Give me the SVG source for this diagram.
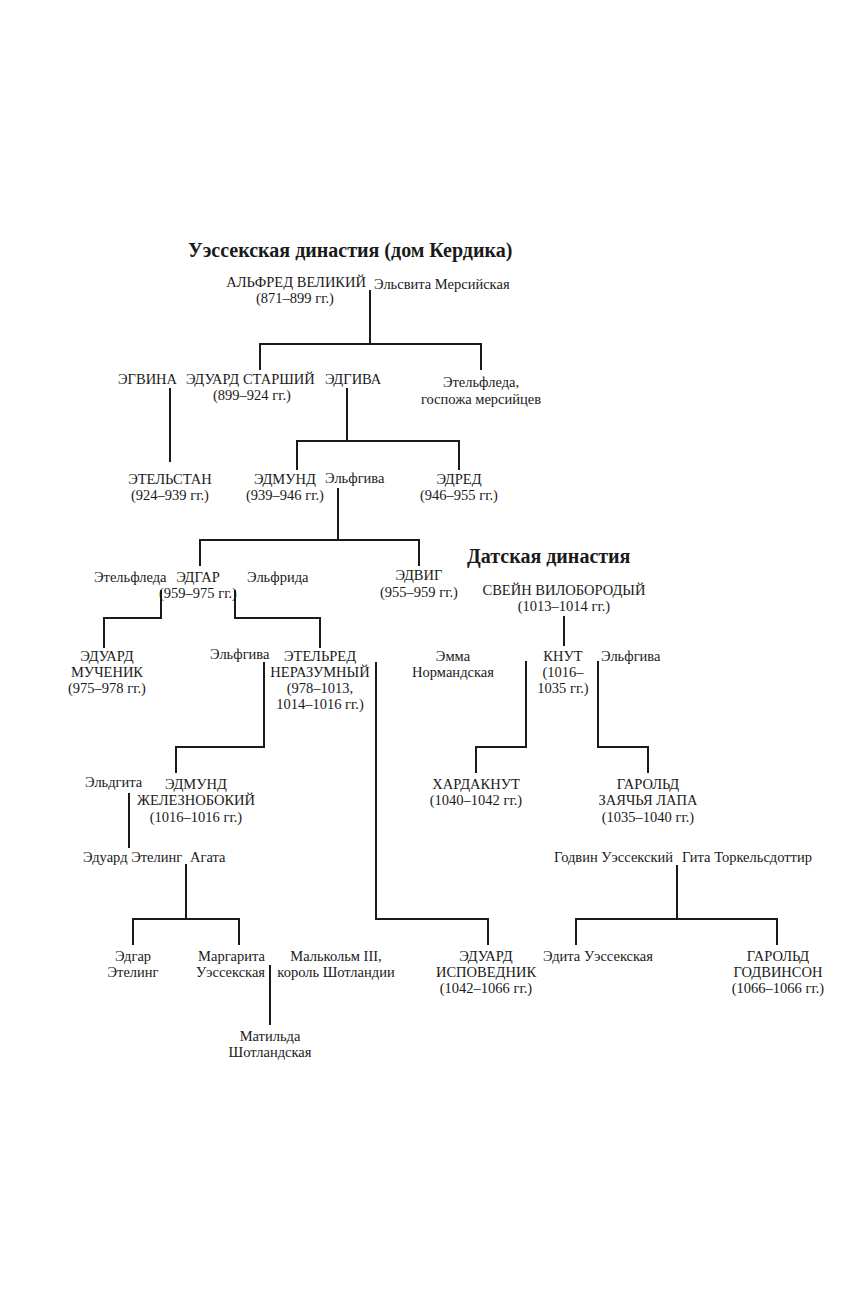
<svg xmlns="http://www.w3.org/2000/svg" width="862" height="1299" viewBox="0 0 862 1299">
<style>
text{font-family:"Liberation Serif","DejaVu Serif",serif;font-size:14.5px;fill:#1a1a1a}
.t{font-weight:bold;font-size:20px}
.c{text-anchor:middle}
.e{text-anchor:end}
#connectors path{fill:none;stroke:#1a1a1a;stroke-width:2}
</style>
<rect width="862" height="1299" fill="#fff"/>
<g id="titles">
<text class="t" x="188" y="257">Уэссекская династия (дом Кердика)</text>
<text class="t" x="467" y="563">Датская династия</text>
</g>
<g id="connectors">
<path d="M370 290V344M260 370V344H481V370"/>
<path d="M170 388V462"/>
<path d="M347 388V441M297 470V441H459V470"/>
<path d="M338 488V540M200 566V540H419V566"/>
<path d="M161 590V618H104V648"/>
<path d="M235 590V618H320V648"/>
<path d="M264 662V747H176V773"/>
<path d="M376 662V919H488V945"/>
<path d="M564 616V646"/>
<path d="M526 661V747H476V773"/>
<path d="M598 661V747H648V773"/>
<path d="M129 793V848"/>
<path d="M186 864V919M133 945V919H239V945"/>
<path d="M270 965V1025"/>
<path d="M677 865V919M576 945V919H777V945"/>
</g>
<g id="alfred"><text class="e" x="366" y="287">АЛЬФРЕД ВЕЛИКИЙ</text><text class="c" x="295" y="303">(871–899 гг.)</text></g>
<g id="elswitha"><text x="374" y="289">Эльсвита Мерсийская</text></g>
<g id="egwina"><text x="118" y="384">ЭГВИНА</text></g>
<g id="edward-elder"><text x="186" y="384">ЭДУАРД СТАРШИЙ</text><text class="c" x="252" y="400">(899–924 гг.)</text></g>
<g id="eadgifu"><text x="325" y="384">ЭДГИВА</text></g>
<g id="aethelflaed"><text class="c" x="481" y="387">Этельфледа,</text><text class="c" x="481" y="404">госпожа мерсийцев</text></g>
<g id="athelstan"><text class="c" x="170" y="484">ЭТЕЛЬСТАН</text><text class="c" x="170" y="500">(924–939 гг.)</text></g>
<g id="edmund"><text class="c" x="285" y="484">ЭДМУНД</text><text class="c" x="285" y="500">(939–946 гг.)</text></g>
<g id="aelfgifu1"><text x="325" y="483">Эльфгива</text></g>
<g id="eadred"><text class="c" x="459" y="484">ЭДРЕД</text><text class="c" x="459" y="500">(946–955 гг.)</text></g>
<g id="aethelflaed2"><text x="94" y="582">Этельфледа</text></g>
<g id="edgar"><text class="c" x="198" y="582">ЭДГАР</text><text class="c" x="198" y="598">(959–975 гг.)</text></g>
<g id="aelfthryth"><text x="247" y="582">Эльфрида</text></g>
<g id="eadwig"><text class="c" x="419" y="580">ЭДВИГ</text><text class="c" x="419" y="597">(955–959 гг.)</text></g>
<g id="edward-martyr"><text class="c" x="107" y="661">ЭДУАРД</text><text class="c" x="107" y="677">МУЧЕНИК</text><text class="c" x="107" y="693">(975–978 гг.)</text></g>
<g id="aelfgifu2"><text x="210" y="659">Эльфгива</text></g>
<g id="aethelred"><text class="c" x="320" y="661">ЭТЕЛЬРЕД</text><text class="c" x="320" y="677">НЕРАЗУМНЫЙ</text><text class="c" x="320" y="693">(978–1013,</text><text class="c" x="320" y="709">1014–1016 гг.)</text></g>
<g id="sweyn"><text class="c" x="564" y="595">СВЕЙН ВИЛОБОРОДЫЙ</text><text class="c" x="564" y="611">(1013–1014 гг.)</text></g>
<g id="emma"><text class="c" x="453" y="661">Эмма</text><text class="c" x="453" y="677">Нормандская</text></g>
<g id="cnut"><text class="c" x="563" y="661">КНУТ</text><text class="c" x="563" y="677">(1016–</text><text class="c" x="563" y="693">1035 гг.)</text></g>
<g id="aelfgifu3"><text x="601" y="661">Эльфгива</text></g>
<g id="harthacnut"><text class="c" x="476" y="789">ХАРДАКНУТ</text><text class="c" x="476" y="805">(1040–1042 гг.)</text></g>
<g id="harold-harefoot"><text class="c" x="648" y="789">ГАРОЛЬД</text><text class="c" x="648" y="805">ЗАЯЧЬЯ ЛАПА</text><text class="c" x="648" y="822">(1035–1040 гг.)</text></g>
<g id="ealdgyth"><text x="85" y="787">Эльдгита</text></g>
<g id="edmund-ironside"><text class="c" x="196" y="789">ЭДМУНД</text><text class="c" x="196" y="805">ЖЕЛЕЗНОБОКИЙ</text><text class="c" x="196" y="822">(1016–1016 гг.)</text></g>
<g id="edward-exile"><text x="83" y="862">Эдуард Этелинг</text></g>
<g id="agatha"><text x="190" y="862">Агата</text></g>
<g id="edgar-aetheling"><text class="c" x="133" y="961">Эдгар</text><text class="c" x="133" y="977">Этелинг</text></g>
<g id="margaret"><text class="e" x="265" y="961">Маргарита</text><text class="e" x="265" y="977">Уэссекская</text></g>
<g id="malcolm"><text class="c" x="336" y="961">Малькольм III,</text><text class="c" x="336" y="977">король Шотландии</text></g>
<g id="matilda"><text class="c" x="270" y="1041">Матильда</text><text class="c" x="270" y="1057">Шотландская</text></g>
<g id="edward-confessor"><text class="c" x="486" y="961">ЭДУАРД</text><text class="c" x="486" y="977">ИСПОВЕДНИК</text><text class="c" x="486" y="993">(1042–1066 гг.)</text></g>
<g id="godwin"><text class="e" x="673" y="862">Годвин Уэссекский</text></g>
<g id="gytha"><text x="682" y="862">Гита Торкельсдоттир</text></g>
<g id="edith"><text x="543" y="961">Эдита Уэссекская</text></g>
<g id="harold-godwinson"><text class="c" x="778" y="961">ГАРОЛЬД</text><text class="c" x="778" y="977">ГОДВИНСОН</text><text class="c" x="778" y="993">(1066–1066 гг.)</text></g>
</svg>
